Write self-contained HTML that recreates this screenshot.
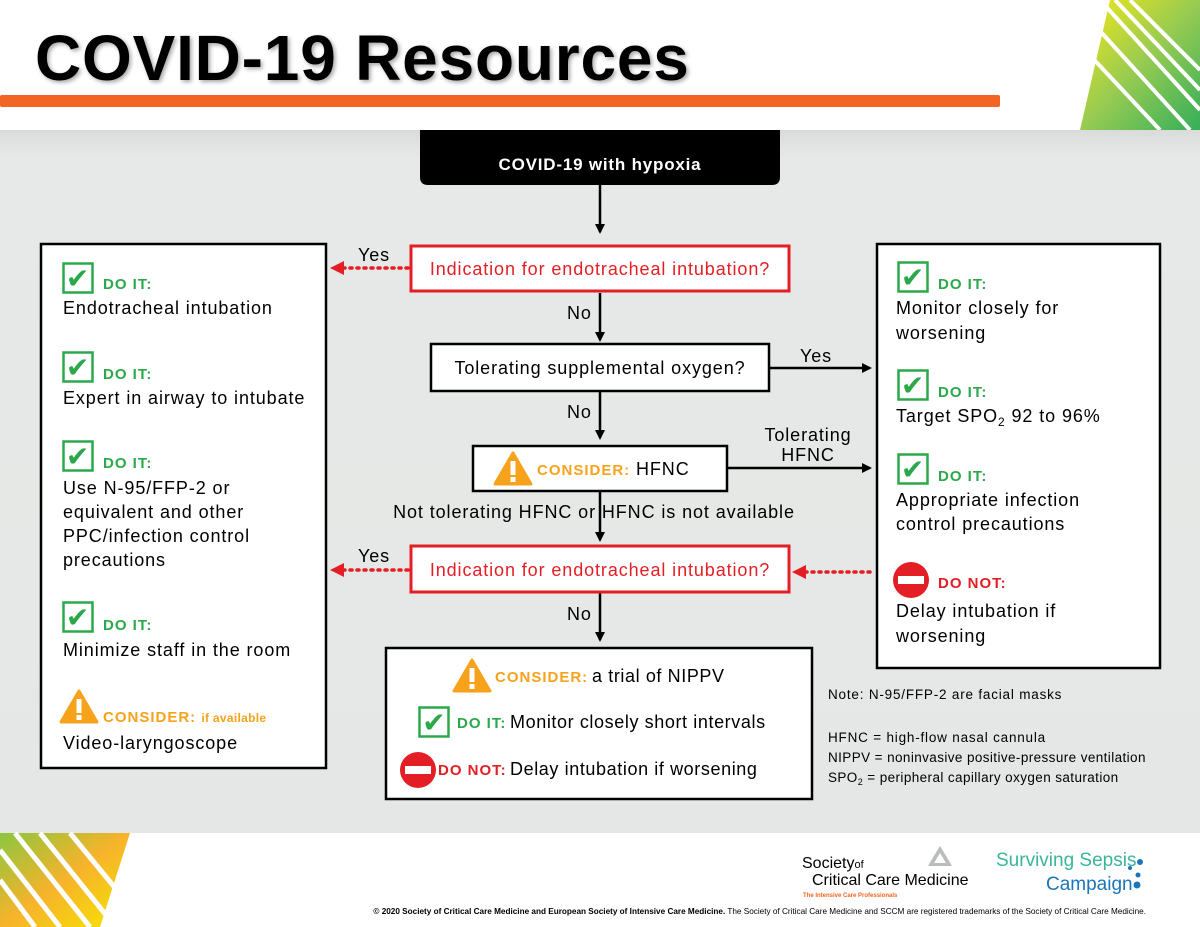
<!DOCTYPE html>
<html><head><meta charset="utf-8"><style>
html,body{margin:0;padding:0;width:1200px;height:927px;overflow:hidden;background:#fff}
svg{display:block;font-family:"Liberation Sans",Arial,sans-serif}
.b{letter-spacing:0.9px}
.l{letter-spacing:0.9px}
.d{letter-spacing:1px}
.n{letter-spacing:0.8px}
</style></head><body>
<svg width="1200" height="927" viewBox="0 0 1200 927" xmlns="http://www.w3.org/2000/svg">
<defs>
<linearGradient id="bg" x1="0" y1="0" x2="0" y2="1"><stop offset="0" stop-color="#d9dcda"/><stop offset="0.04" stop-color="#e7e9e8"/><stop offset="1" stop-color="#e4e7e5"/></linearGradient>
<linearGradient id="gr" x1="0" y1="0" x2="1" y2="1"><stop offset="0" stop-color="#f5e600"/><stop offset="0.5" stop-color="#8cc63f"/><stop offset="1" stop-color="#1fa64a"/></linearGradient>
<linearGradient id="gr2" x1="0" y1="0" x2="1" y2="1"><stop offset="0" stop-color="#8cc63f"/><stop offset="0.5" stop-color="#f7b32b"/><stop offset="1" stop-color="#f5e600"/></linearGradient>
<marker id="ab" markerWidth="10" markerHeight="10" refX="8" refY="5" orient="auto" markerUnits="userSpaceOnUse"><path d="M0,0 L10,5 L0,10 z" fill="#000"/></marker>
<g id="chk"><rect x="1.5" y="1.5" width="29" height="29" fill="#fff" stroke="#2aa84a" stroke-width="2.5"/><text x="16" y="26" font-size="28" font-weight="bold" fill="#2aa84a" text-anchor="middle" font-family="DejaVu Sans">✔</text></g>
<g id="warn"><path d="M18,1 L36,32 L0,32 z" fill="#f7a21b" stroke="#f7a21b" stroke-width="3" stroke-linejoin="round"/><rect x="15.5" y="9" width="5" height="14" fill="#fff"/><rect x="15.5" y="25" width="5" height="5" fill="#fff"/></g>
<g id="no"><circle cx="18" cy="18" r="18" fill="#e31e24"/><rect x="5" y="14" width="26" height="8" fill="#fff"/></g>
</defs>
<rect width="1200" height="927" fill="#fff"/>
<g opacity="0.9">
<path d="M1110,0 L1200,0 L1200,130 L1080,130 Z" fill="url(#gr)"/>
<g stroke="#fff" stroke-width="4">
<line x1="1100" y1="0" x2="1200" y2="110"/><line x1="1115" y1="0" x2="1200" y2="90"/><line x1="1130" y1="0" x2="1200" y2="70"/><line x1="1090" y1="20" x2="1190" y2="130"/><line x1="1085" y1="50" x2="1160" y2="130"/>
</g></g>
<text x="35" y="80" font-size="64" font-weight="bold" fill="#000" style="letter-spacing:0.8px;filter:drop-shadow(2px 2px 2px rgba(0,0,0,0.35))">COVID-19 Resources</text>
<rect x="0" y="95" width="1000" height="12" rx="2" fill="#f26522"/>
<rect x="0" y="130" width="1200" height="703" fill="url(#bg)"/>
<path d="M0,833 L130,833 L100,927 L0,927 Z" fill="url(#gr2)"/>
<g stroke="#fff" stroke-width="5"><line x1="0" y1="850" x2="60" y2="927"/><line x1="15" y1="833" x2="90" y2="927"/><line x1="40" y1="833" x2="110" y2="920"/><line x1="70" y1="833" x2="125" y2="900"/><line x1="0" y1="880" x2="35" y2="927"/></g>
<path d="M420,130 L780,130 L780,177 Q780,185 772,185 L428,185 Q420,185 420,177 Z" fill="#000"/>
<text x="600" y="170" font-size="17" font-weight="bold" fill="#fff" text-anchor="middle" class="n">COVID-19 with hypoxia</text>
<g stroke="#000" stroke-width="2.5" fill="none">
<line x1="600" y1="185" x2="600" y2="232" marker-end="url(#ab)"/>
<line x1="600" y1="293" x2="600" y2="340" marker-end="url(#ab)"/>
<line x1="600" y1="392" x2="600" y2="438" marker-end="url(#ab)"/>
<line x1="600" y1="492" x2="600" y2="540" marker-end="url(#ab)"/>
<line x1="600" y1="593" x2="600" y2="640" marker-end="url(#ab)"/>
<line x1="770" y1="368" x2="870" y2="368" marker-end="url(#ab)"/>
<line x1="728" y1="468" x2="870" y2="468" marker-end="url(#ab)"/>
</g>
<g stroke="#e31e24" stroke-width="3.5" stroke-dasharray="2 5" stroke-linecap="round" fill="none">
<line x1="408" y1="268" x2="340" y2="268"/>
<line x1="408" y1="570" x2="340" y2="570"/>
<line x1="870" y1="572" x2="800" y2="572"/>
</g>
<path d="M330,268 L344,261 L344,275 z" fill="#e31e24"/>
<path d="M330,570 L344,563 L344,577 z" fill="#e31e24"/>
<path d="M792,572 L806,565 L806,579 z" fill="#e31e24"/>
<g font-size="18" fill="#000" class="l">
<text x="358" y="261">Yes</text>
<text x="358" y="562">Yes</text>
<text x="567" y="319">No</text>
<text x="567" y="418">No</text>
<text x="567" y="620">No</text>
<text x="800" y="362">Yes</text>
<text x="808" y="441" text-anchor="middle">Tolerating</text>
<text x="808" y="461" text-anchor="middle">HFNC</text>
<text x="594" y="518" text-anchor="middle">Not tolerating HFNC or HFNC is not available</text>
</g>
<rect x="411" y="246" width="378" height="45" fill="#fff" stroke="#e31e24" stroke-width="3"/>
<text x="600" y="275" font-size="18" fill="#e31e24" text-anchor="middle" class="l">Indication for endotracheal intubation?</text>
<rect x="411" y="546" width="378" height="46" fill="#fff" stroke="#e31e24" stroke-width="3"/>
<text x="600" y="576" font-size="18" fill="#e31e24" text-anchor="middle" class="l">Indication for endotracheal intubation?</text>
<rect x="431" y="344" width="338" height="47" fill="#fff" stroke="#000" stroke-width="2.5"/>
<text x="600" y="374" font-size="18" fill="#000" text-anchor="middle" class="l">Tolerating supplemental oxygen?</text>
<rect x="473" y="446" width="254" height="45" fill="#fff" stroke="#000" stroke-width="2.5"/>
<use href="#warn" x="495" y="452"/>
<text x="537" y="475" font-size="15" font-weight="bold" fill="#f7a21b" class="d">CONSIDER:</text>
<text x="636" y="475" font-size="18" fill="#000" class="l">HFNC</text>
<rect x="41" y="244" width="285" height="524" fill="#fff" stroke="#000" stroke-width="2.5"/>
<g font-size="18" fill="#000" class="b">
<use href="#chk" x="62" y="262"/><text x="103" y="289" font-size="15" font-weight="bold" fill="#2aa84a" class="d">DO IT:</text>
<text x="63" y="314">Endotracheal intubation</text>
<use href="#chk" x="62" y="351"/><text x="103" y="379" font-size="15" font-weight="bold" fill="#2aa84a" class="d">DO IT:</text>
<text x="63" y="404">Expert in airway to intubate</text>
<use href="#chk" x="62" y="440"/><text x="103" y="468" font-size="15" font-weight="bold" fill="#2aa84a" class="d">DO IT:</text>
<text x="63" y="494">Use N-95/FFP-2 or</text>
<text x="63" y="518">equivalent and other</text>
<text x="63" y="542">PPC/infection control</text>
<text x="63" y="566">precautions</text>
<use href="#chk" x="62" y="601"/><text x="103" y="630" font-size="15" font-weight="bold" fill="#2aa84a" class="d">DO IT:</text>
<text x="63" y="656">Minimize staff in the room</text>
<use href="#warn" x="61" y="690"/><text x="103" y="722" font-size="15" font-weight="bold" fill="#f7a21b" class="d">CONSIDER: <tspan font-size="12" style="letter-spacing:0.3px">if available</tspan></text>
<text x="63" y="749">Video-laryngoscope</text>
</g>
<rect x="877" y="244" width="283" height="424" fill="#fff" stroke="#000" stroke-width="2.5"/>
<g font-size="18" fill="#000" class="b">
<use href="#chk" x="897" y="261"/><text x="938" y="289" font-size="15" font-weight="bold" fill="#2aa84a" class="d">DO IT:</text>
<text x="896" y="314">Monitor closely for</text>
<text x="896" y="339">worsening</text>
<use href="#chk" x="897" y="369"/><text x="938" y="397" font-size="15" font-weight="bold" fill="#2aa84a" class="d">DO IT:</text>
<text x="896" y="422">Target SPO<tspan font-size="12" dy="4">2</tspan><tspan dy="-4"> 92 to 96%</tspan></text>
<use href="#chk" x="897" y="453"/><text x="938" y="481" font-size="15" font-weight="bold" fill="#2aa84a" class="d">DO IT:</text>
<text x="896" y="506">Appropriate infection</text>
<text x="896" y="530">control precautions</text>
<use href="#no" x="893" y="562"/><text x="938" y="588" font-size="15" font-weight="bold" fill="#e31e24" class="d">DO NOT:</text>
<text x="896" y="617">Delay intubation if</text>
<text x="896" y="642">worsening</text>
</g>
<rect x="386" y="648" width="426" height="151" fill="#fff" stroke="#000" stroke-width="2.5"/>
<use href="#warn" x="454" y="659"/>
<text x="495" y="682" font-size="15" font-weight="bold" fill="#f7a21b" class="d">CONSIDER:</text>
<text x="592" y="682" font-size="18" fill="#000" style="letter-spacing:0.6px">a trial of NIPPV</text>
<use href="#chk" x="418" y="706"/>
<text x="457" y="728" font-size="15" font-weight="bold" fill="#2aa84a" class="d">DO IT:</text>
<text x="510" y="728" font-size="18" fill="#000" style="letter-spacing:0.6px">Monitor closely short intervals</text>
<use href="#no" x="400" y="752"/>
<text x="438" y="775" font-size="15" font-weight="bold" fill="#e31e24" class="d">DO NOT:</text>
<text x="510" y="775" font-size="18" fill="#000" style="letter-spacing:0.6px">Delay intubation if worsening</text>
<g font-size="13.5" fill="#000" class="n">
<text x="828" y="699">Note: N-95/FFP-2 are facial masks</text>
<text x="828" y="742">HFNC = high-flow nasal cannula</text>
<text x="828" y="762" style="letter-spacing:0.4px">NIPPV = noninvasive positive-pressure ventilation</text>
<text x="828" y="782" style="letter-spacing:0.4px">SPO<tspan font-size="9" dy="3">2</tspan><tspan dy="-3"> = peripheral capillary oxygen saturation</tspan></text>
</g>
<text x="802" y="868" font-size="16" fill="#000">Society<tspan font-size="11">of</tspan></text>
<text x="812" y="885" font-size="16" fill="#000">Critical Care Medicine</text>
<text x="803" y="897" font-size="6" fill="#f26522" font-weight="bold">The Intensive Care Professionals</text>
<path d="M940,846 L952,866 L928,866 Z" fill="#b8bcbc"/><path d="M940,853 L946,863 L934,863 Z" fill="#fff"/>
<text x="996" y="866" font-size="19" fill="#3ab59a">Surviving Sepsis</text>
<text x="1046" y="890" font-size="19" fill="#1b75bb">Campaign</text>
<circle cx="1130" cy="868" r="2" fill="#1b75bb"/><circle cx="1138" cy="875" r="2.5" fill="#1b75bb"/><circle cx="1140" cy="862" r="3" fill="#1b75bb"/><circle cx="1137" cy="885" r="3.5" fill="#1b75bb"/>
<text x="1146" y="914" font-size="8.2" fill="#000" text-anchor="end"><tspan font-weight="bold">© 2020 Society of Critical Care Medicine and European Society of Intensive Care Medicine.</tspan> The Society of Critical Care Medicine and SCCM are registered trademarks of the Society of Critical Care Medicine.</text>
</svg>
</body></html>
